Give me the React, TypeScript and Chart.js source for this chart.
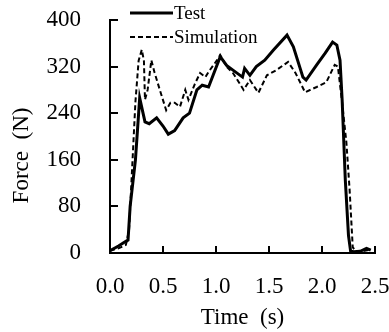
import React, { useEffect, useRef } from "react";
import { Chart, registerables } from "chart.js";

Chart.register(...registerables);

const testTime = [0.0, 0.08, 0.15, 0.17, 0.19, 0.24, 0.28, 0.33, 0.37, 0.44, 0.5, 0.55, 0.61, 0.69, 0.75, 0.82, 0.87, 0.93, 1.04, 1.1, 1.16, 1.25, 1.27, 1.32, 1.38, 1.46, 1.54, 1.67, 1.73, 1.82, 1.85, 1.95, 2.03, 2.1, 2.14, 2.17, 2.19, 2.22, 2.25, 2.27, 2.3, 2.36, 2.42, 2.46];
const testForce = [4, 12, 20, 22, 80, 160, 266, 225, 222, 232, 218, 204, 210, 232, 240, 280, 288, 285, 337, 322, 314, 302, 317, 305, 320, 331, 348, 374, 354, 302, 297, 323, 343, 362, 357, 331, 263, 125, 30, 3, 2, 3, 8, 5];

const simTime = [0.0, 0.08, 0.15, 0.18, 0.21, 0.24, 0.27, 0.3, 0.32, 0.33, 0.355, 0.39, 0.42, 0.47, 0.53, 0.57, 0.61, 0.66, 0.71, 0.74, 0.8, 0.85, 0.9, 0.93, 1.01, 1.04, 1.1, 1.16, 1.22, 1.26, 1.32, 1.4, 1.48, 1.57, 1.68, 1.75, 1.84, 1.95, 2.04, 2.12, 2.15, 2.19, 2.23, 2.26, 2.29, 2.32, 2.38, 2.44];
const simForce = [4, 8, 14, 40, 150, 260, 330, 349, 330, 263, 280, 331, 310, 280, 245, 258, 258, 251, 280, 263, 290, 309, 302, 311, 331, 340, 320, 309, 292, 280, 297, 275, 305, 314, 328, 309, 276, 285, 293, 323, 320, 258, 190, 110, 10, 2, 3, 5];

const yTicks = [0, 80, 160, 240, 320, 400];
const xTicks = [0.0, 0.5, 1.0, 1.5, 2.0, 2.5];
const seriesNames = ["Test", "Simulation"];
const xTitle = "Time  (s)";
const yTitle = "Force  (N)";

const FONT = "'Liberation Serif', 'Times New Roman', serif";

const tickAndLegend = {
  id: "tickAndLegend",
  afterDraw(chart: any) {
    const { ctx, chartArea, scales } = chart;
    const xs = scales.x;
    const ys = scales.y;
    ctx.save();
    ctx.strokeStyle = "#000";
    ctx.lineWidth = 2;
    const bottom = ys.getPixelForValue(0);
    const left = xs.getPixelForValue(0);
    xTicks.forEach((v) => {
      if (v === 0) return;
      const px = Math.round(xs.getPixelForValue(v));
      ctx.beginPath();
      ctx.moveTo(px, bottom);
      ctx.lineTo(px, bottom - 7);
      ctx.stroke();
    });
    yTicks.forEach((v) => {
      if (v === 0) return;
      const py = Math.round(ys.getPixelForValue(v));
      ctx.beginPath();
      ctx.moveTo(left, py);
      ctx.lineTo(left + 8, py);
      ctx.stroke();
    });
    // y-axis title
    ctx.save();
    ctx.translate(chartArea.left - 88, (ys.top + ys.bottom) / 2 + 19);
    ctx.rotate(-Math.PI / 2);
    ctx.fillStyle = "#000";
    ctx.font = `23px ${FONT}`;
    ctx.textAlign = "center";
    ctx.textBaseline = "middle";
    ctx.fillText(yTitle, 0, 0);
    ctx.restore();
    // legend
    const lx0 = chartArea.left + 20;
    const lx1 = chartArea.left + 63;
    const rows = [chartArea.top - 7, chartArea.top + 17];
    chart.data.datasets.forEach((ds: any, i: number) => {
      ctx.beginPath();
      ctx.lineWidth = ds.borderWidth;
      ctx.setLineDash(ds.borderDash || []);
      ctx.moveTo(lx0, rows[i]);
      ctx.lineTo(lx1, rows[i]);
      ctx.stroke();
      ctx.setLineDash([]);
      ctx.fillStyle = "#000";
      ctx.font = `19px ${FONT}`;
      ctx.textBaseline = "middle";
      ctx.textAlign = "left";
      ctx.fillText(ds.label, lx1 + 1, rows[i] + 1);
    });
    ctx.restore();
  },
};

export default function App() {
  const ref = useRef<HTMLCanvasElement>(null);
  useEffect(() => {
    document.body.style.margin = "0";
    const chart = new Chart(ref.current!, {
      type: "line",
      data: {
        datasets: [
          {
            label: seriesNames[0],
            data: testTime.map((t, i) => ({ x: t, y: testForce[i] })),
            borderColor: "#000",
            borderWidth: 3,
            pointRadius: 0,
            tension: 0,
            fill: false,
          },
          {
            label: seriesNames[1],
            data: simTime.map((t, i) => ({ x: t, y: simForce[i] })),
            borderColor: "#000",
            borderWidth: 2,
            borderDash: [5, 3],
            pointRadius: 0,
            tension: 0,
            fill: false,
          },
        ],
      },
      options: {
        animation: false,
        responsive: true,
        maintainAspectRatio: false,
        layout: { padding: { top: 20, right: 14, left: 0, bottom: 0 } },
        plugins: { legend: { display: false }, tooltip: { enabled: false } },
        scales: {
          x: {
            type: "linear",
            min: 0,
            max: 2.5,
            afterBuildTicks: (s: any) => {
              s.ticks = xTicks.map((v) => ({ value: v }));
            },
            afterFit: (s: any) => {
              s.height = 79;
              s.paddingLeft = 0;
              s.paddingRight = 0;
            },
            grid: { display: false, drawTicks: false },
            border: { display: true, color: "#000", width: 2 },
            ticks: {
              color: "#000",
              padding: 20,
              maxRotation: 0,
              font: { family: FONT, size: 23 },
              callback: (v: any) => Number(v).toFixed(1),
            },
            title: {
              display: true,
              text: xTitle,
              color: "#000",
              font: { family: FONT, size: 23 },
              padding: { top: 13, bottom: 0 },
            },
          },
          y: {
            min: 0,
            max: 400,
            afterBuildTicks: (s: any) => {
              s.ticks = yTicks.map((v) => ({ value: v }));
            },
            afterFit: (s: any) => {
              s.width = 110;
              s.paddingTop = 0;
              s.paddingBottom = 0;
            },
            grid: { display: false, drawTicks: false },
            border: { display: true, color: "#000", width: 2 },
            ticks: {
              color: "#000",
              padding: 29,
              font: { family: FONT, size: 23 },
            },
          },
        },
      },
      plugins: [tickAndLegend],
    } as any);
    return () => chart.destroy();
  }, []);
  return (
    <div style={{ position: "fixed", left: 0, top: 0, width: 389, height: 332 }}>
      <canvas ref={ref} />
    </div>
  );
}
